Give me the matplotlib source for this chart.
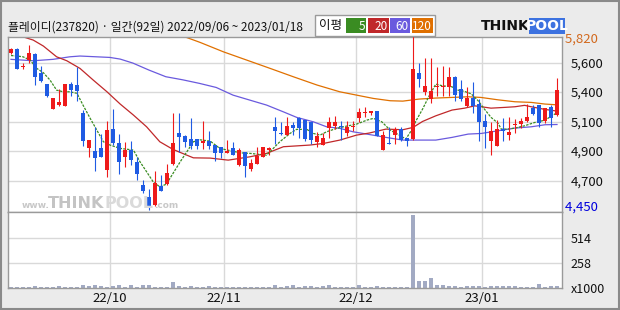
import matplotlib
matplotlib.use("Agg")
import matplotlib.pyplot as plt
from matplotlib.patches import Rectangle
import numpy as np

plt.rcParams['font.family'] = ['Noto Sans CJK KR', 'DejaVu Sans']

# ---------------- data ----------------
title = "플레이디(237820) · 일간(92일) 2022/09/06 ~ 2023/01/18"

opens = [5677, 5713, 5567, 5624, 5671, 5522, 5436, 5243, 5274, 5266,
         5436, 5428, 5209, 4933, 4914, 4935, 4763, 5084, 4974, 4867,
         4920, 4826, 4646, 4549, 4492, 4638, 4653, 4810, 5050, 5032,
         5006, 5006, 4972, 4988, 4956, 4941, 4899, 4935, 4805, 4904,
         4773, 4810, 4867, 4922, 5100, 5048, 5037, 5115, 5170, 5154,
         5136, 4985, 4961, 5094, 5107, 5108, 5053, 5097, 5170, 5212,
         5209, 5225, 4922, 4975, 5040, 5084, 5014, 5006, 5522, 5376,
         5317, 5412, 5412, 5410, 5494, 5397, 5264, 5327, 5280, 5144,
         4993, 4953, 5084, 5040, 5115, 5123, 5144, 5248, 5272, 5144,
         5259, 5196]
highs = [5720, 5715, 5603, 5742, 5680, 5577, 5440, 5330, 5397, 5436,
         5454, 5572, 5230, 5000, 5097, 5045, 5144, 5243, 5045, 4980,
         4988, 4862, 4687, 4614, 4753, 4724, 4810, 5207, 5209, 5035,
         5170, 5010, 5144, 5066, 4960, 4945, 4998, 4982, 4935, 4907,
         4849, 4943, 4945, 4946, 5180, 5140, 5180, 5140, 5180, 5158,
         5140, 5063, 5055, 5176, 5188, 5149, 5149, 5144, 5248, 5254,
         5228, 5228, 5066, 5097, 5097, 5097, 5016, 5820, 5598, 5640,
         5640, 5572, 5580, 5567, 5497, 5468, 5410, 5450, 5319, 5201,
         5136, 5154, 5170, 5176, 5162, 5170, 5280, 5274, 5275, 5250,
         5274, 5483]
lows = [5670, 5556, 5551, 5603, 5431, 5452, 5332, 5243, 5266, 5266,
        5345, 5306, 4953, 4867, 4758, 4867, 4706, 4960, 4732, 4789,
        4802, 4685, 4581, 4450, 4485, 4598, 4650, 4805, 4902, 4941,
        4927, 4930, 4927, 4930, 4836, 4857, 4895, 4880, 4797, 4711,
        4758, 4808, 4865, 4883, 4967, 5040, 5035, 5037, 5014, 4993,
        4967, 4941, 4958, 5011, 5084, 4998, 5032, 5071, 5136, 5176,
        5196, 5030, 4920, 4967, 4967, 4993, 4953, 5000, 5410, 5353,
        5285, 5345, 5345, 5345, 5306, 5306, 5260, 5209, 4988, 4935,
        4883, 4950, 4988, 4998, 5055, 5092, 5140, 5198, 5102, 5129,
        5102, 5190]
closes = [5713, 5556, 5575, 5679, 5489, 5457, 5345, 5327, 5295, 5436,
          5392, 5384, 4992, 4998, 4857, 4867, 5076, 4972, 4828, 4920,
          4844, 4732, 4601, 4479, 4661, 4601, 4739, 4974, 5024, 4985,
          4953, 4953, 4993, 4953, 4896, 4896, 4914, 4883, 4920, 4797,
          4818, 4873, 4941, 4938, 5071, 5043, 5107, 5094, 5094, 5006,
          4998, 5029, 5011, 5139, 5139, 5102, 5097, 5110, 5217, 5218,
          5225, 5032, 5037, 4970, 5084, 4998, 4993, 5554, 5478, 5418,
          5379, 5418, 5418, 5494, 5353, 5319, 5327, 5264, 5141, 5097,
          5066, 5084, 5066, 5061, 5120, 5144, 5180, 5201, 5131, 5248,
          5170, 5389]
volumes = [10, 10, 10, 10, 20, 10, 10, 10, 20, 10,
           10, 10, 31, 20, 31, 20, 10, 20, 31, 10,
           31, 10, 31, 31, 10, 10, 10, 61, 20, 10,
           20, 10, 10, 20, 10, 10, 10, 10, 10, 10,
           10, 10, 10, 10, 31, 10, 20, 31, 10, 20,
           20, 10, 20, 31, 10, 10, 10, 10, 31, 10,
           10, 20, 10, 10, 10, 10, 10, 748, 72, 72,
           102, 31, 31, 20, 20, 10, 20, 20, 20, 10,
           20, 20, 20, 20, 20, 10, 10, 10, 41, 10,
           20, 20]

# moving averages (day index, price)
ma5_x = [0, 1, 2, 3.2, 4.3, 5.4, 6.5, 7.6, 8.7, 9.8, 11, 12, 13.2, 14.3, 15.4,
         16.5, 18.2, 20.4, 21.5, 22.6, 23.7, 24.8, 25.9, 27, 28.2, 29.3, 30.4,
         31.5, 33.2, 34.8, 38.2, 39.8, 42.6, 44.8, 46.5, 47.6, 49.3, 50.4, 51.5,
         52.6, 54.3, 55.9, 57.6, 59.3, 60.4, 61.8, 63.2, 64.8, 65.8, 66.7, 67.5,
         68.6, 69.7, 70.8, 71.9, 73.5, 74.5, 75.6, 76.7, 77.8, 78.9, 80, 81.2,
         81.7, 82.8, 84, 85.6, 87.3, 89, 90.6, 91]
ma5_y = [5660, 5656, 5650, 5624, 5559, 5525, 5468, 5389, 5376, 5376, 5364, 5272,
         5168, 5076, 4985, 4959, 4933, 4920, 4828, 4750, 4671, 4632, 4653, 4737,
         4828, 4906, 4985, 5000, 4990, 4933, 4898, 4894, 4880, 4985, 5050, 5082,
         5082, 5050, 5037, 5063, 5090, 5107, 5123, 5154, 5168, 5141, 5076, 5035,
         5006, 5071, 5149, 5241, 5345, 5436, 5423, 5415, 5389, 5379, 5360, 5309,
         5241, 5176, 5129, 5084, 5084, 5092, 5110, 5136, 5154, 5201, 5212]
ma20_x = [0, 2.3, 3.7, 5.4, 7.6, 9.3, 11.5, 13.7, 16, 18.2, 20.4, 22.6, 24.8, 27,
          29.3, 30.4, 33.2, 36.2, 39.8, 42.6, 45.4, 49.8, 52.1, 54.8, 57.6, 59.7,
          62.5, 65.3, 67, 68.6, 70.8, 73.5, 75.6, 77.3, 78.4, 80, 82.3, 84, 85.6,
          86.7, 89, 91]
ma20_y = [5830, 5802, 5781, 5734, 5650, 5619, 5559, 5468, 5376, 5280, 5194, 5102,
          4985, 4925, 4880, 4859, 4857, 4841, 4867, 4894, 4946, 4959, 4972, 4998,
          5037, 5053, 5084, 5079, 5097, 5144, 5188, 5233, 5248, 5266, 5259, 5248,
          5254, 5259, 5270, 5259, 5238, 5225]
ma60_x = [0, 3.7, 7, 9.8, 11.5, 16.5, 18.2, 20.3, 23, 25.8, 28.6, 31.4, 34.2, 37,
          39.8, 42.6, 45.4, 47.6, 50.4, 52.6, 54.8, 57, 59.3, 62.5, 65.3, 68,
          70.8, 73.5, 76.2, 78.4, 81.2, 84, 86.7, 89, 91]
ma60_y = [5630, 5619, 5630, 5650, 5656, 5645, 5632, 5601, 5546, 5494, 5470, 5442,
          5410, 5350, 5311, 5272, 5219, 5176, 5141, 5102, 5090, 5063, 5045, 5019,
          4998, 4998, 4998, 5019, 5045, 5050, 5071, 5092, 5102, 5118, 5120]
ma120_x = [27, 31.5, 35.4, 39.3, 43.2, 47.1, 51, 54.8, 57.6, 60.4, 63.2, 65.3, 68,
           70.8, 73.5, 76.2, 78.3, 81.2, 84, 86.7, 89, 91]
ma120_y = [5840, 5763, 5689, 5624, 5559, 5493, 5429, 5376, 5350, 5324, 5306, 5303,
           5319, 5327, 5332, 5337, 5332, 5313, 5298, 5293, 5280, 5274]

month_labels = ["22/10", "22/11", "22/12", "23/01"]
month_start_idx = [17, 36, 58, 79]
price_tick_values = [5605, 5374, 5143, 4912, 4681]
price_tick_labels = ["5,600", "5,400", "5,100", "4,900", "4,700"]
price_max_label = "5,820"
price_min_label = "4,450"
vol_tick_values = [514, 258, 0]
vol_tick_labels = ["514", "258", "x1000"]
ma_periods = ["5", "20", "60", "120"]

# ---------------- style ----------------
RED = '#EE1A1A'
BLUE = '#1F5BE3'
MA_COLORS = ['#3A8C22', '#C0282A', '#6A5ADE', '#E07000']
GRID = '#D9D9D9'
SPINE = '#9A9A9A'
VOLC = '#A2AAC3'

W, H = 620, 310
fig = plt.figure(figsize=(6.2, 3.1), dpi=100, facecolor='#EBEBEB')


def fx(x):
    return x / W


def fy(y):
    return 1 - y / H


ax = fig.add_axes([fx(8), fy(212), fx(562) - fx(8), fy(37) - fy(212)])
axv = fig.add_axes([fx(8), fy(288), fx(562) - fx(8), fy(212) - fy(288)])

n = len(opens)
x = np.arange(n)
o = np.array(opens, float)
c = np.array(closes, float)
hi = np.array(highs, float)
lo = np.array(lows, float)
cols = [RED if cc >= oo else BLUE for oo, cc in zip(o, c)]

xl = (-0.5, -0.5 + 554 / 6)
for a in (ax, axv):
    a.set_facecolor('white')
    a.set_xlim(*xl)
    for s in a.spines.values():
        s.set_color(SPINE)
        s.set_linewidth(1)
    for m in month_start_idx:
        a.axvline(m - 0.5, color=GRID, lw=1, zorder=0)

ax.set_ylim(4435, 5805)
for v in price_tick_values:
    ax.axhline(v, color=GRID, lw=1, zorder=0)

# watermark
fig.text(fx(22), fy(208), "www.", fontsize=6.5, color='#C8C8C8', family='DejaVu Sans',
         fontweight='bold', va='baseline')
fig.text(fx(48), fy(208), "THINK", fontsize=11.5, color='#C4C4C4', family='DejaVu Sans',
         fontweight='bold', va='baseline')
fig.text(fx(104), fy(208), "POOL", fontsize=11.5, color='#DADADA', family='DejaVu Sans',
         fontweight='bold', va='baseline')
fig.text(fx(154), fy(208), ".com", fontsize=6.5, color='#C8C8C8', family='DejaVu Sans',
         fontweight='bold', va='baseline')

# moving averages
ax.plot(ma120_x, ma120_y, color=MA_COLORS[3], lw=0.9, zorder=2)
ax.plot(ma60_x, ma60_y, color=MA_COLORS[2], lw=0.9, zorder=2)
ax.plot(ma20_x, ma20_y, color=MA_COLORS[1], lw=0.9, zorder=2)
ax.plot(ma5_x, ma5_y, color=MA_COLORS[0], lw=0.9, ls=(0, (2, 1)), zorder=2)

# candles
ax.vlines(x, lo, hi, colors=cols, lw=0.8, zorder=3)
bottom = np.minimum(o, c)
height = np.maximum(np.abs(c - o), 8)
ax.bar(x, height, bottom=bottom, width=0.8, color=cols, linewidth=0, zorder=4)

imin = int(np.argmin(lo))
ax.text(imin, lo[imin] - 10, "↑", color='#0000DD', fontsize=5.5, ha='center', va='top',
        family='DejaVu Sans', zorder=5)

ax.yaxis.tick_right()
ax.set_yticks(price_tick_values)
ax.set_yticklabels(price_tick_labels)
ax.tick_params(axis='y', length=0, pad=6, labelsize=9.5, labelcolor='#111111')
ax.tick_params(axis='x', length=0, labelbottom=False)
ax.text(1.0, 0.985, " " + price_max_label, transform=ax.transAxes, color='#D2691E',
        fontsize=9.5, ha='left', va='center')
ax.text(1.0, 0.025, " " + price_min_label, transform=ax.transAxes, color='#0000DD',
        fontsize=9.5, ha='left', va='center')

# volume
axv.bar(x, volumes, width=0.8, color=VOLC, linewidth=0, zorder=2)
axv.set_ylim(0, 778)
for v in vol_tick_values[:-1]:
    axv.axhline(v, color=GRID, lw=1, zorder=0)
axv.yaxis.tick_right()
axv.set_yticks(vol_tick_values)
axv.set_yticklabels(vol_tick_labels)
axv.tick_params(axis='y', length=0, pad=6, labelsize=9, labelcolor='#111111')
axv.set_xticks([m - 0.5 for m in month_start_idx])
axv.set_xticklabels(month_labels)
axv.tick_params(axis='x', length=0, pad=3, labelsize=9.5, labelcolor='#111111')

# title
fig.text(fx(8), fy(27), title, fontsize=8.5, color='#111111', va='center', ha='left')

# MA legend box
fig.add_artist(Rectangle((fx(315), fy(36)), fx(435) - fx(315), fy(15) - fy(36),
                         transform=fig.transFigure, facecolor='white',
                         edgecolor='#9A9A9A', lw=1))
fig.text(fx(319), fy(26), "이평", fontsize=9, color='#111111', va='center', ha='left')
box_x = [346, 368, 390, 412]
box_w = [20, 21, 20, 21]
for bx, bw, lab, col in zip(box_x, box_w, ma_periods, MA_COLORS):
    fig.add_artist(Rectangle((fx(bx), fy(33)), bw / W, 15 / H, transform=fig.transFigure,
                             facecolor=col, edgecolor='none'))
    fig.text(fx(bx + bw - 1), fy(26), lab, fontsize=8.5, color='white', va='center',
             ha='right')

# logo
fig.text(fx(481), fy(26), "THINK", fontsize=10, fontweight='bold', color='#111111',
         family='DejaVu Sans', va='center', ha='left')
fig.add_artist(Rectangle((fx(529), fy(34)), 36 / W, 16 / H, transform=fig.transFigure,
                         facecolor='#3D72E0', edgecolor='none'))
fig.text(fx(547), fy(26), "POOL", fontsize=10, fontweight='bold', color='white',
         family='DejaVu Sans', va='center', ha='center')

# outer frame
fig.add_artist(Rectangle((0.001, 0.002), 0.997, 0.995, transform=fig.transFigure,
                         fill=False, edgecolor='#8A8A8A', lw=1.5))

fig.savefig("out.png", dpi=100, facecolor=fig.get_facecolor())
